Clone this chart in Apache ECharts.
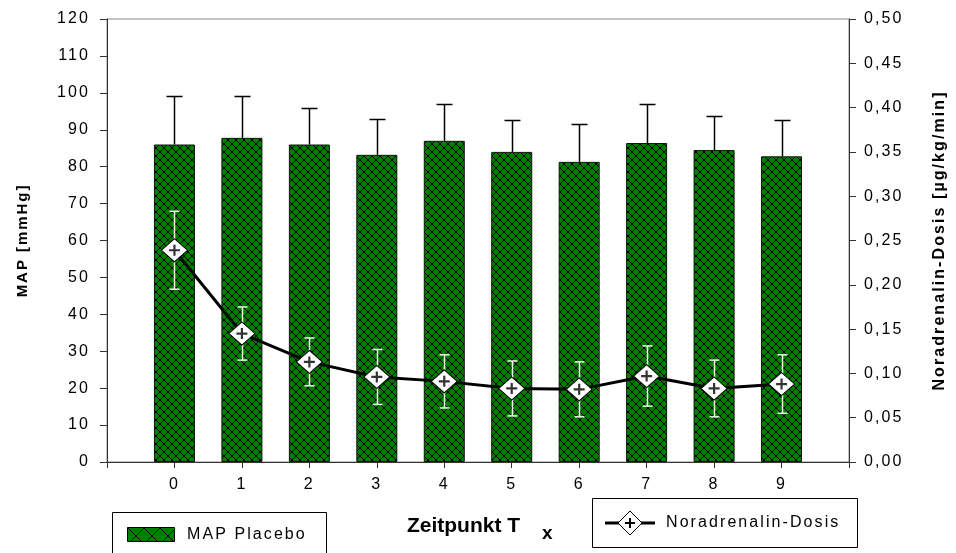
<!DOCTYPE html>
<html>
<head>
<meta charset="utf-8">
<script src="https://cdn.jsdelivr.net/npm/echarts@6/dist/echarts.min.js"></script>
<style>
  html, body { margin: 0; padding: 0; background: #fff; }
  #chart { width: 956px; height: 553px; }
</style>
</head>
<body>
<div id="chart"></div>
<script>
// Time points T0..T9
const timepoints = [0, 1, 2, 3, 4, 5, 6, 7, 8, 9];
// Mean arterial pressure, placebo group (mean and SD, mmHg)
const mapMean = [86.0, 87.8, 86.0, 83.2, 87.0, 84.0, 81.3, 86.4, 84.5, 82.8];
const mapSd   = [13.2, 11.3, 9.9, 9.7, 10.0, 8.6, 10.2, 10.6, 9.2, 9.8];
// Norepinephrine dose (mean and SD, µg/kg/min)
const noraMean = [0.239, 0.145, 0.113, 0.096, 0.091, 0.083, 0.082, 0.097, 0.083, 0.088];
const noraSd   = [0.044, 0.030, 0.027, 0.031, 0.030, 0.031, 0.031, 0.034, 0.032, 0.033];

const FONT = '"Liberation Sans", Arial, sans-serif';

// Slightly widened tracking for the smaller canvas text
(function () {
  const proto = CanvasRenderingContext2D.prototype;
  const fill = proto.fillText;
  proto.fillText = function () {
    const m = /(\d+(?:\.\d+)?)px/.exec(this.font);
    const size = m ? parseFloat(m[1]) : 12;
    this.letterSpacing = size >= 19 ? '0px' : (size * 0.13).toFixed(2) + 'px';
    return fill.apply(this, arguments);
  };
})();

// Green fill with black diagonal cross-hatching
function hatch(size) {
  const c = document.createElement('canvas');
  c.width = size; c.height = size;
  const g = c.getContext('2d');
  g.fillStyle = '#008000';
  g.fillRect(0, 0, size, size);
  g.strokeStyle = '#000';
  g.lineWidth = 1;
  g.beginPath();
  g.moveTo(0, 0); g.lineTo(size, size);
  g.moveTo(size, 0); g.lineTo(0, size);
  g.stroke();
  return c;
}
const barPattern = { image: hatch(8), repeat: 'repeat' };
const legendPattern = { image: hatch(16), repeat: 'repeat' };

const chart = echarts.init(document.getElementById('chart'), null, { renderer: 'canvas' });

const axisColor = '#333';
const labelStyle = { fontFamily: FONT, fontSize: 16, color: '#000' };

const option = {
  animation: false,
  backgroundColor: '#fff',
  grid: {
    left: 107, right: 105, top: 19, bottom: 91,
    show: true, borderColor: '#8a8a8a', borderWidth: 1, backgroundColor: 'transparent'
  },
  xAxis: {
    type: 'value',
    min: -1, max: 10, interval: 1,
    splitLine: { show: false },
    axisLine: { lineStyle: { color: axisColor, width: 1 } },
    axisTick: { length: 6, lineStyle: { color: axisColor } },
    axisLabel: Object.assign({}, labelStyle, {
      margin: 15,
      formatter: v => (v >= 0 && v <= 9 ? String(v) : '')
    }),
    name: 'Zeitpunkt T',
    nameLocation: 'middle',
    nameGap: 54,
    nameTextStyle: {
      fontFamily: FONT, fontSize: 21, fontWeight: 'bold', color: '#000',
      padding: [0, 29, 0, 0]
    }
  },
  yAxis: [
    {
      type: 'value', position: 'left',
      min: 0, max: 120, interval: 10,
      splitLine: { show: false },
      axisLine: { show: true, onZero: false, lineStyle: { color: axisColor, width: 1 } },
      axisTick: { show: true, length: 7, lineStyle: { color: axisColor } },
      axisLabel: Object.assign({}, labelStyle, { margin: 17 }),
      name: 'MAP [mmHg]',
      nameLocation: 'middle',
      nameRotate: 90,
      nameGap: 77,
      nameTextStyle: { fontFamily: FONT, fontSize: 15, fontWeight: 'bold', color: '#000' }
    },
    {
      type: 'value', position: 'right',
      min: 0, max: 0.5, interval: 0.05,
      splitLine: { show: false },
      axisLine: { show: true, onZero: false, lineStyle: { color: axisColor, width: 1 } },
      axisTick: { show: true, length: 7, lineStyle: { color: axisColor } },
      axisLabel: Object.assign({}, labelStyle, {
        margin: 15,
        formatter: v => v.toFixed(2).replace('.', ',')
      }),
      name: 'Noradrenalin-Dosis [µg/kg/min]',
      nameLocation: 'middle',
      nameRotate: 90,
      nameGap: 83,
      nameTextStyle: { fontFamily: FONT, fontSize: 16, fontWeight: 'bold', color: '#000' }
    }
  ],
  series: [
    {
      name: 'MAP Placebo',
      type: 'bar',
      barWidth: 41,
      z: 2,
      data: timepoints.map((t, i) => [t, mapMean[i]]),
      itemStyle: { color: barPattern, borderColor: '#111', borderWidth: 1 }
    },
    {
      // upper SD whiskers of the MAP bars
      type: 'custom',
      z: 3,
      data: timepoints.map((t, i) => [t, mapMean[i], mapSd[i]]),
      renderItem: function (params, api) {
        const x = api.value(0), m = api.value(1), e = api.value(2);
        const base = api.coord([x, m]);
        const top = api.coord([x, m + e]);
        const px = Math.round(base[0]) + 0.5;
        const ty = Math.round(top[1]) + 0.5;
        const st = { stroke: '#000', lineWidth: 1.5 };
        return {
          type: 'group',
          children: [
            { type: 'line', shape: { x1: px, y1: base[1], x2: px, y2: ty }, style: st },
            { type: 'line', shape: { x1: px - 8, y1: ty, x2: px + 8, y2: ty }, style: st }
          ]
        };
      }
    },
    {
      // ±SD whiskers of the norepinephrine dose
      type: 'custom',
      yAxisIndex: 1,
      z: 3,
      data: timepoints.map((t, i) => [t, noraMean[i], noraSd[i]]),
      renderItem: function (params, api) {
        const x = api.value(0), m = api.value(1), e = api.value(2);
        const lo = api.coord([x, m - e]);
        const hi = api.coord([x, m + e]);
        const px = Math.round(lo[0]) + 0.5;
        const st = { stroke: '#f4f4f4', lineWidth: 1.5 };
        return {
          type: 'group',
          children: [
            { type: 'line', shape: { x1: px, y1: lo[1], x2: px, y2: hi[1] }, style: st },
            { type: 'line', shape: { x1: px - 5, y1: hi[1], x2: px + 5, y2: hi[1] }, style: st },
            { type: 'line', shape: { x1: px - 5, y1: lo[1], x2: px + 5, y2: lo[1] }, style: st }
          ]
        };
      }
    },
    {
      name: 'Noradrenalin-Dosis',
      type: 'line',
      yAxisIndex: 1,
      z: 4,
      data: timepoints.map((t, i) => [t, noraMean[i]]),
      symbol: 'diamond',
      symbolSize: [26, 23],
      showAllSymbol: true,
      lineStyle: { color: '#000', width: 3 },
      itemStyle: { color: '#fff', borderColor: '#000', borderWidth: 1 }
    },
    {
      // cross inside each diamond marker
      type: 'scatter',
      yAxisIndex: 1,
      z: 5,
      silent: true,
      data: timepoints.map((t, i) => [t, noraMean[i]]),
      symbol: 'path://M4,0H6V4H10V6H6V10H4V6H0V4H4Z',
      symbolSize: 11,
      itemStyle: { color: '#000' }
    }
  ],
  graphic: [
    {
      // subscript of the x-axis title
      type: 'text', z: 11, x: 542, y: 534,
      style: { text: 'x', font: 'bold 19px ' + FONT, fill: '#000', verticalAlign: 'middle', align: 'left' }
    },
    {
      type: 'rect', z: 10,
      shape: { x: 112.5, y: 512.5, width: 214, height: 60 },
      style: { fill: '#fff', stroke: '#000', lineWidth: 1 }
    },
    {
      type: 'rect', z: 11,
      shape: { x: 127.5, y: 527.5, width: 47, height: 14 },
      style: { fill: legendPattern, stroke: '#000', lineWidth: 1 }
    },
    {
      type: 'text', z: 11, x: 187, y: 535,
      style: { text: 'MAP Placebo', font: '16px ' + FONT, fill: '#000', verticalAlign: 'middle', align: 'left' }
    },
    {
      type: 'rect', z: 10,
      shape: { x: 592.5, y: 498.5, width: 265, height: 49 },
      style: { fill: '#fff', stroke: '#000', lineWidth: 1 }
    },
    {
      type: 'line', z: 11,
      shape: { x1: 605, y1: 523, x2: 655, y2: 523 },
      style: { stroke: '#000', lineWidth: 3 }
    },
    {
      type: 'polygon', z: 12,
      shape: { points: [[630, 511], [642, 523], [630, 535], [618, 523]] },
      style: { fill: '#fff', stroke: '#000', lineWidth: 1 }
    },
    {
      type: 'line', z: 13,
      shape: { x1: 625, y1: 523, x2: 635, y2: 523 },
      style: { stroke: '#000', lineWidth: 2 }
    },
    {
      type: 'line', z: 13,
      shape: { x1: 630, y1: 518, x2: 630, y2: 528 },
      style: { stroke: '#000', lineWidth: 2 }
    },
    {
      type: 'text', z: 11, x: 666, y: 523,
      style: { text: 'Noradrenalin-Dosis', font: '16px ' + FONT, fill: '#000', verticalAlign: 'middle', align: 'left' }
    }
  ]
};

chart.setOption(option);
</script>
</body>
</html>
